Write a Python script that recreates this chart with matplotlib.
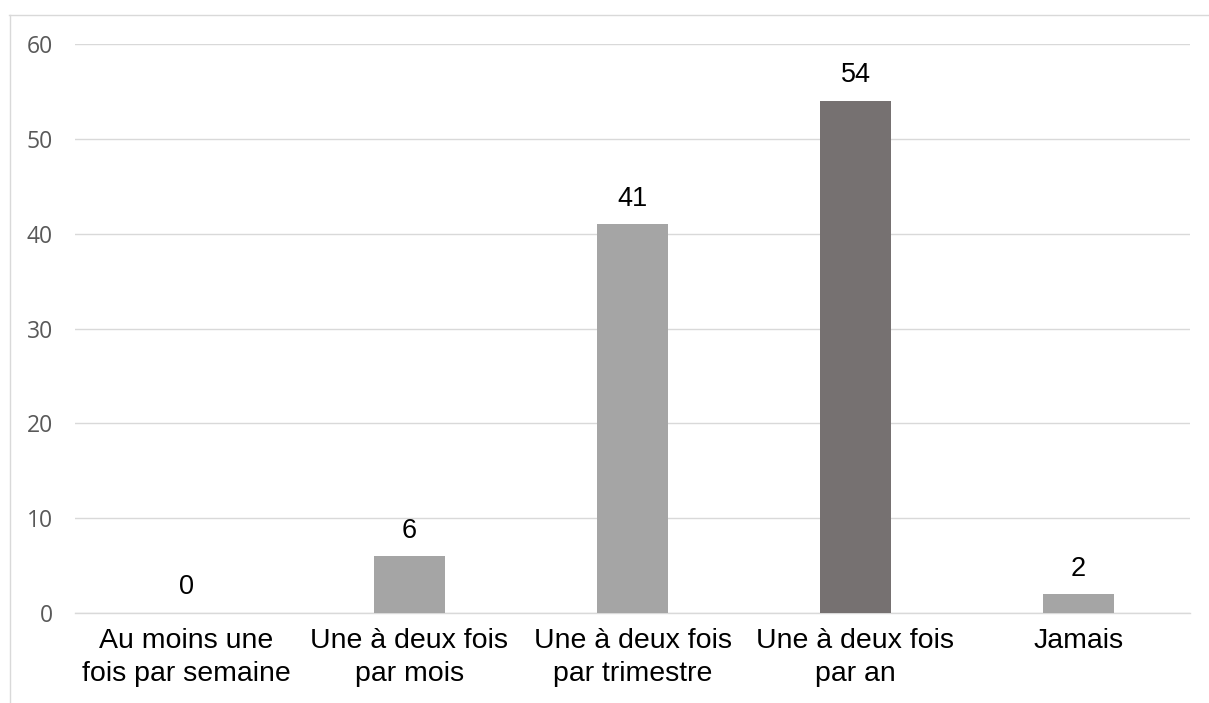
import matplotlib
matplotlib.use("Agg")
import matplotlib.pyplot as plt
from matplotlib.lines import Line2D

categories = ["Au moins une\nfois par semaine", "Une à deux fois\npar mois",
              "Une à deux fois\npar trimestre", "Une à deux fois\npar an", "Jamais"]
values = [0, 6, 41, 54, 2]
bar_colors = ["#A5A5A5", "#A5A5A5", "#A5A5A5", "#767171", "#A5A5A5"]
yticks = [0, 10, 20, 30, 40, 50, 60]

W, H = 1209, 703
fig = plt.figure(figsize=(W / 100, H / 100), dpi=100)
ax = fig.add_axes([75 / W, 1 - 613 / H, (1190 - 75) / W, (613 - 44) / H])

x = list(range(len(categories)))
bars = ax.bar(x, values, width=0.32, color=bar_colors, zorder=3)
ax.set_xlim(-0.5, len(categories) - 0.5)
ax.set_ylim(0, 60)
ax.set_yticks(yticks)
ax.set_yticklabels([str(t) for t in yticks], fontsize=16.5, color="#595959", family=["Open Sans", "DejaVu Sans"])
ax.set_xticks(x)
ax.set_xticklabels(categories, fontsize=20.5, family=["Liberation Sans", "DejaVu Sans"], linespacing=1.32)
ax.tick_params(axis="y", length=0, pad=16)
ax.tick_params(axis="x", length=0, pad=11)
ax.grid(axis="y", color="#D9D9D9", linewidth=1.0, zorder=0)
for s in ["top", "right", "left"]:
    ax.spines[s].set_visible(False)
ax.spines["bottom"].set_color("#D9D9D9")
ax.spines["bottom"].set_linewidth(1.0)

for xi, v in zip(x, values):
    ax.annotate(str(v), (xi, v), xytext=(0, 9), textcoords="offset points",
                ha="center", va="bottom", fontsize=19.5, family=["Liberation Sans", "DejaVu Sans"])

# chart frame (partially visible: top and left edges)
fig.add_artist(Line2D([9 / W, 1.0], [1 - 15 / H, 1 - 15 / H], transform=fig.transFigure,
                      color="#D9D9D9", linewidth=1.0))
fig.add_artist(Line2D([10 / W, 10 / W], [1 - 15 / H, 0.0], transform=fig.transFigure,
                      color="#D9D9D9", linewidth=1.0))

fig.savefig("out.png", dpi=100, facecolor="white")
